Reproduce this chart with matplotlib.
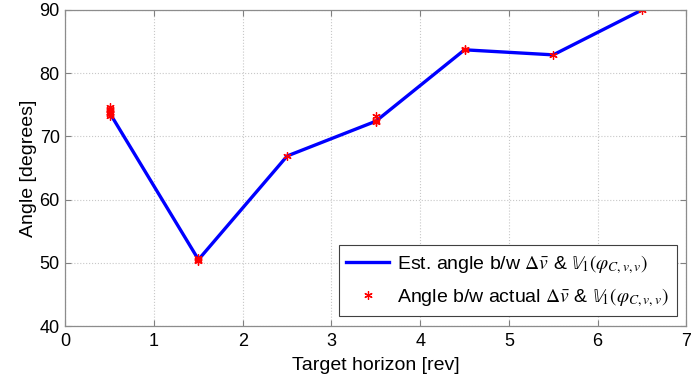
import matplotlib
matplotlib.use("Agg")
import matplotlib.pyplot as plt

plt.rcParams['font.family'] = ['Liberation Sans', 'DejaVu Sans']
plt.rcParams['mathtext.fontset'] = 'stix'

# Estimated angle per target horizon
horizon = [0.5, 1.5, 2.5, 3.5, 4.5, 5.5, 6.5]
est_angle = [73.7, 50.5, 66.9, 72.4, 83.7, 82.9, 90.0]

# Actual angle samples (several runs per horizon)
act_x = [0.5, 0.5, 0.5, 0.5, 0.5, 0.5, 0.5,
         1.5, 1.5, 1.5,
         2.5,
         3.5, 3.5, 3.5,
         4.5, 4.5,
         5.5,
         6.5]
act_y = [73.3, 73.5, 73.7, 73.9, 74.1, 74.4, 74.6,
         50.3, 50.5, 50.7,
         66.9,
         72.2, 72.5, 73.2,
         83.6, 83.8,
         82.9,
         90.0]

fig = plt.figure(figsize=(6.96, 3.84), dpi=100)
ax = fig.add_axes([0.094, 0.151, 0.892, 0.823])

ax.plot(horizon, est_angle, color='blue', lw=2.4,
        label=r'Est. angle b/w $\Delta\bar{v}$ & $\mathbb{V}_1(\varphi_{C,v,v})$')
ax.plot(act_x, act_y, linestyle='none', marker=(6, 2, 0), color='red',
        markersize=6, markeredgewidth=0.9,
        label=r'Angle b/w actual $\Delta\bar{v}$ & $\mathbb{V}_1(\varphi_{C,v,v})$')

ax.set_xlim(0, 7)
ax.set_ylim(40, 90)
ax.set_xticks(range(0, 8))
ax.set_yticks(range(40, 91, 10))
ax.tick_params(direction='in', labelsize=13, length=4, top=True, right=True,
               color='#808080')
ax.tick_params(axis='x', pad=5)
ax.tick_params(axis='y', pad=4)
ax.grid(True, linestyle=':', color='#c8c8c8', lw=0.8)
for s in ax.spines.values():
    s.set_color('#8c8c8c')
    s.set_linewidth(0.9)

ax.set_xlabel('Target horizon [rev]', fontsize=14, labelpad=5)
ax.set_ylabel('Angle [degrees]', fontsize=14, labelpad=2)

leg = ax.legend(loc='lower right', fontsize=14, fancybox=False,
                framealpha=1, edgecolor='#404040', borderaxespad=0.5,
                handlelength=2.2, handletextpad=0.4, labelspacing=0.5,
                borderpad=0.4, bbox_to_anchor=(1.0, 0.0))
leg.get_frame().set_linewidth(0.8)

fig.savefig('out.png', dpi=100)
